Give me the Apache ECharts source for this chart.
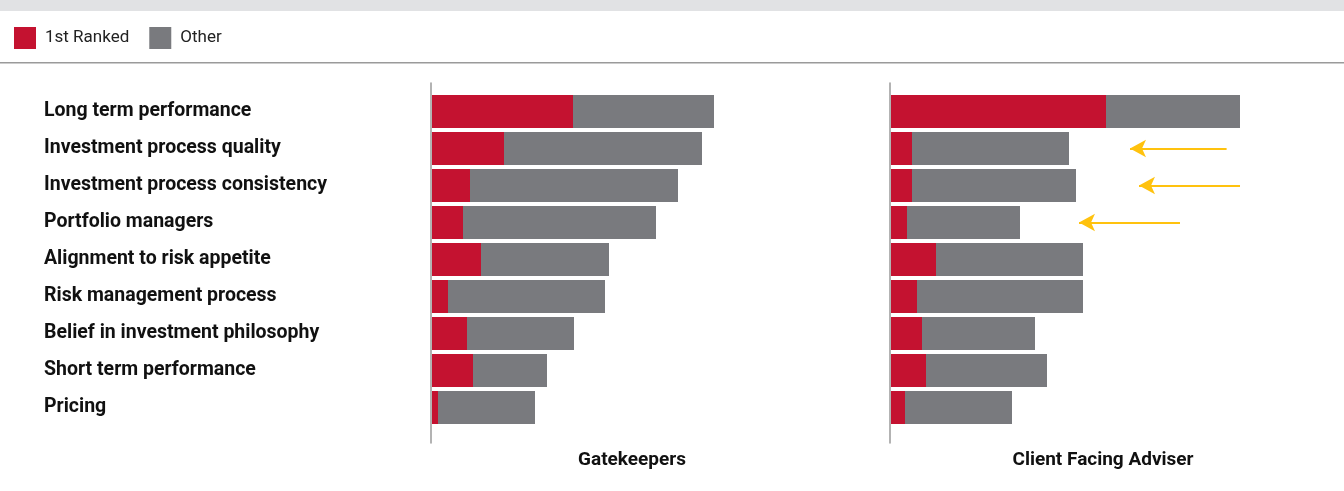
<!DOCTYPE html>
<html>
<head>
<meta charset="utf-8">
<script src="https://cdn.jsdelivr.net/npm/echarts@6/dist/echarts.min.js"></script>
<style>
  html, body { margin: 0; padding: 0; background: #ffffff; }
  #chart { width: 1344px; height: 491px; }
</style>
</head>
<body>
<div id="chart"></div>
<script>
// Factors for choosing a manager, share of respondents (%)
const categories = [
  'Long term performance',
  'Investment process quality',
  'Investment process consistency',
  'Portfolio managers',
  'Alignment to risk appetite',
  'Risk management process',
  'Belief in investment philosophy',
  'Short term performance',
  'Pricing'
];

const panelTitles = ['Gatekeepers', 'Client Facing Adviser'];
const seriesNames = ['1st Ranked', 'Other'];

// Gatekeepers
const gateFirst = [35.25, 18, 9.5, 7.75, 12.25, 4, 8.75, 10.25, 1.5];
const gateOther = [35.25, 49.5, 52, 48.25, 32, 39.25, 26.75, 18.5, 24.25];

// Client facing advisers
const advFirst = [53.75, 5.25, 5.25, 4, 11.25, 6.5, 7.75, 8.75, 3.5];
const advOther = [33.5, 39.25, 41, 28.25, 36.75, 41.5, 28.25, 30.25, 26.75];

// Highlight arrows on the adviser panel (from -> to, in axis units)
const arrowRows = ['Investment process quality', 'Investment process consistency', 'Portfolio managers'];
const arrowFrom = [83.9, 87.25, 72.25];
const arrowTo = [59.75, 62, 47];

const RED = '#c41230';
const GREY = '#797a7e';
const GOLD = '#ffc20e';
const FONT = "Roboto, 'Liberation Sans', sans-serif";

const chart = echarts.init(document.getElementById('chart'), null, { renderer: 'canvas' });

const panelLeft = [432, 891];
const barTop = 93;
const barHeight = 333;
const panelWidth = 400;

const grids = [];
const xAxes = [];
const yAxes = [];

// bar grids
panelLeft.forEach((left, i) => {
  grids.push({ left: left, top: barTop, width: panelWidth, height: barHeight, containLabel: false });
  xAxes.push({ type: 'value', gridIndex: i, min: 0, max: 100, show: false });
  yAxes.push({
    type: 'category', gridIndex: i, data: categories, inverse: true,
    axisLine: { show: false }, axisTick: { show: false }, splitLine: { show: false },
    axisLabel: i === 0 ? {
      show: true, align: 'left', margin: left - 44,
      fontFamily: FONT, fontWeight: 'bold', fontSize: 19.5, color: '#111'
    } : { show: false }
  });
});

// vertical baseline of each panel, slightly taller than the bars
panelLeft.forEach((left, i) => {
  grids.push({ left: left - 1, top: 83, width: 10, height: 360 });
  xAxes.push({ type: 'value', gridIndex: 2 + i, show: false });
  yAxes.push({
    type: 'value', gridIndex: 2 + i, position: 'left',
    axisLine: { show: true, lineStyle: { color: '#9a9a9a', width: 1.5 } },
    axisTick: { show: false }, axisLabel: { show: false }, splitLine: { show: false }
  });
});

const panelData = [[gateFirst, gateOther], [advFirst, advOther]];
const series = [];
panelData.forEach((pair, p) => {
  pair.forEach((vals, s) => {
    const item = {
      name: seriesNames[s], type: 'bar', stack: 'panel' + p,
      xAxisIndex: p, yAxisIndex: p, barWidth: 33,
      itemStyle: { color: s === 0 ? RED : GREY },
      data: vals, silent: true
    };
    if (p === 1 && s === 1) {
      item.markLine = {
        silent: true,
        symbol: ['none', 'arrow'],
        symbolSize: [13, 16],
        label: { show: false },
        lineStyle: { color: GOLD, width: 2, type: 'solid' },
        data: arrowRows.map((row, k) => [
          { coord: [arrowFrom[k], row] },
          { coord: [arrowTo[k], row] }
        ])
      };
    }
    series.push(item);
  });
});

chart.setOption({
  animation: false,
  backgroundColor: '#ffffff',
  legend: {
    data: seriesNames, left: 14, top: 27, padding: 0, itemWidth: 22, itemHeight: 22, itemGap: 20,
    icon: 'rect', selectedMode: false,
    textStyle: { fontFamily: FONT, fontSize: 17, color: '#222', padding: [4, 0, 0, 4] }
  },
  grid: grids,
  xAxis: xAxes,
  yAxis: yAxes,
  series: series,
  graphic: [
    { type: 'rect', left: 0, top: 0, shape: { width: 1344, height: 11 }, style: { fill: '#e1e2e4' }, silent: true },
    { type: 'rect', left: 0, top: 62, shape: { width: 1344, height: 1.5 }, style: { fill: '#9a9a9a' }, silent: true },
    { type: 'text', x: panelLeft[0] + 200, y: 460, style: { text: panelTitles[0], textAlign: 'center', textVerticalAlign: 'middle', fontFamily: FONT, fontWeight: 'bold', fontSize: 19, fill: '#111' }, silent: true },
    { type: 'text', x: panelLeft[1] + 212, y: 460, style: { text: panelTitles[1], textAlign: 'center', textVerticalAlign: 'middle', fontFamily: FONT, fontWeight: 'bold', fontSize: 19, fill: '#111' }, silent: true }
  ]
});
</script>
</body>
</html>
